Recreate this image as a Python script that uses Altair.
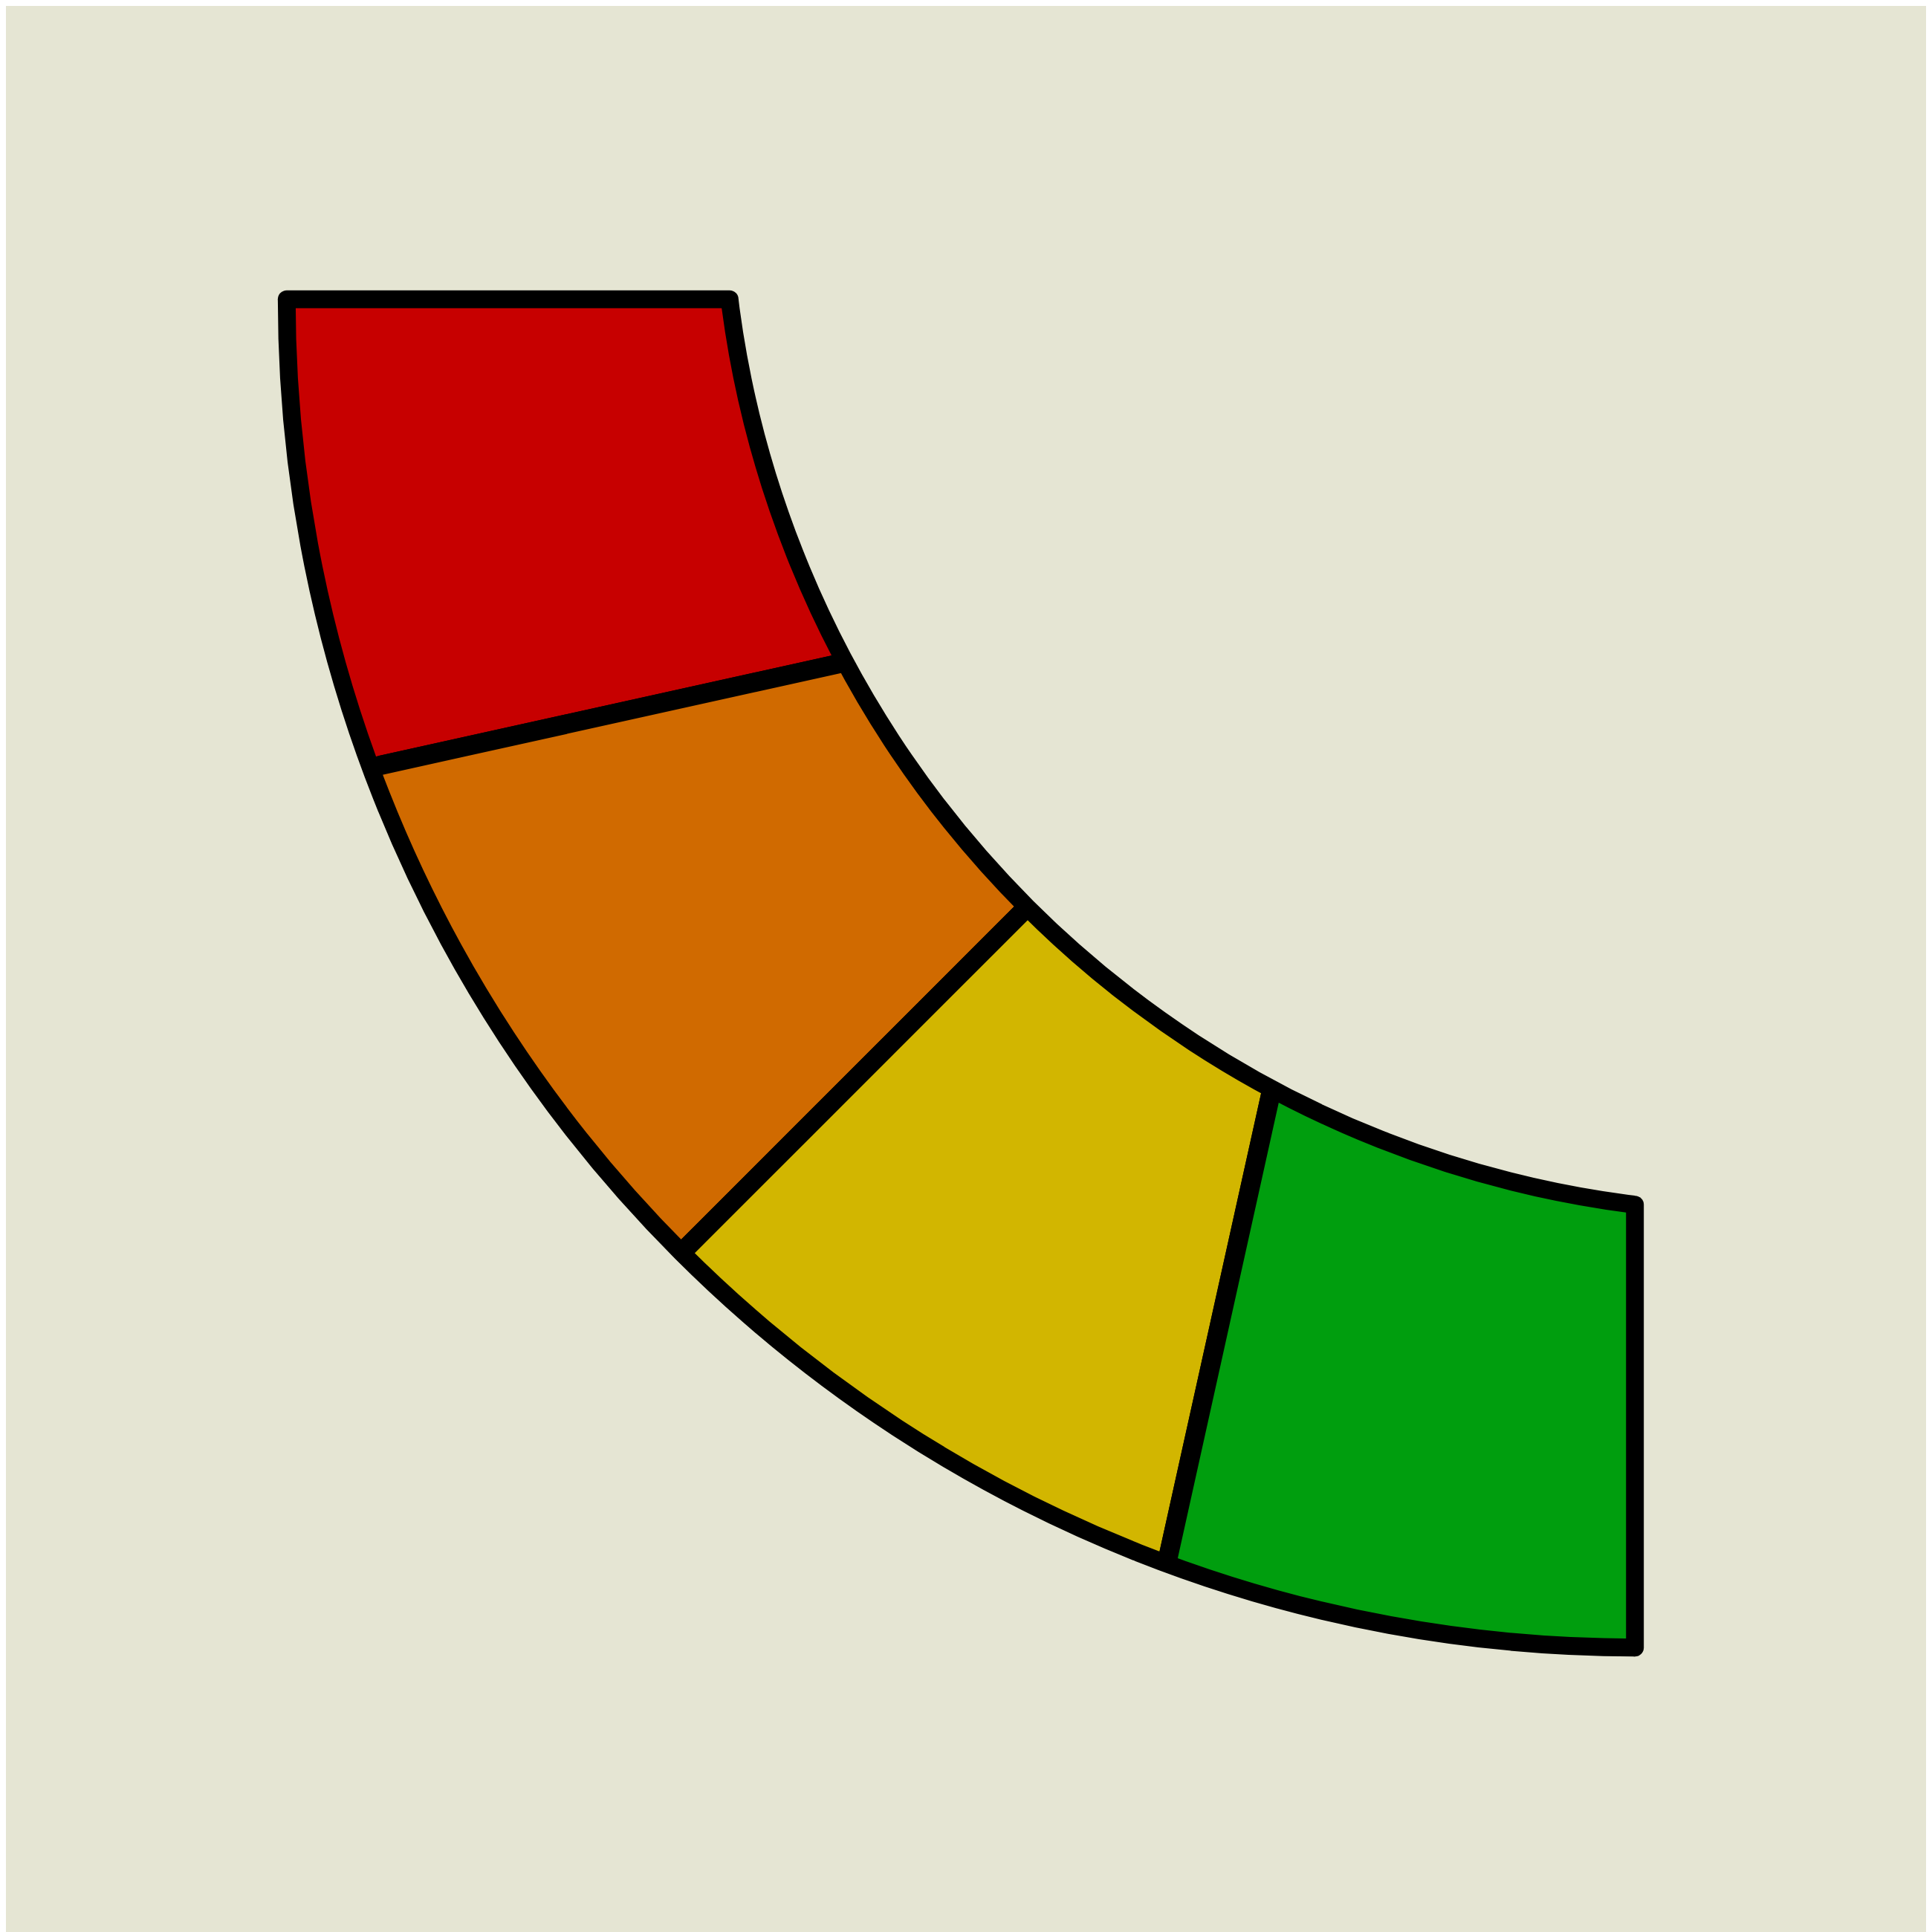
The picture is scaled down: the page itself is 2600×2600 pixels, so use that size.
import math
import altair as alt
import pandas as pd

# ---- data -------------------------------------------------------------
segments = ["Red", "Orange", "Yellow", "Green"]
shares = [25, 25, 25, 25]
colors = ["#C70000", "#D06A00", "#D2B600", "#009E0E"]

BG = "#E5E5D3"
W = H = 2592
EDGE = 24        # outline width
DIV = 26         # divider width

# ---- geometry (pixel space of the plot area) --------------------------
cox, coy, r_out = 2199, 392, 1820     # centre / radius of the outer rim
cix, ciy, r_in = 2374, 217, 1408      # centre / radius of the inner rim
px, py = 1873, 718                    # point the dividers converge to
theta_range = [math.radians(160), math.radians(290)]

top_x_left = cox - r_out
top_x_right = cix - math.sqrt(r_in ** 2 - (coy - ciy) ** 2)
right_y_top = ciy + math.sqrt(r_in ** 2 - (cox - cix) ** 2)
right_y_bottom = coy + r_out

df = pd.DataFrame({"segment": segments, "share": shares, "idx": list(range(len(segments)))})
one = pd.DataFrame({"k": [0]})

backdrop = alt.Chart(one).mark_rect(fill=BG, strokeWidth=0).encode(
    x=alt.value(-20), x2=alt.value(W + 20), y=alt.value(-20), y2=alt.value(H + 20))

wedges = alt.Chart(df).mark_arc(
    stroke="black", strokeWidth=DIV, strokeJoin="round"
).encode(
    theta=alt.Theta("share:Q", stack=True,
                    scale=alt.Scale(domain=[0, sum(shares)], range=theta_range)),
    order=alt.Order("idx:Q", sort="descending"),
    color=alt.Color("segment:N", scale=alt.Scale(domain=segments, range=colors), legend=None),
    x=alt.value(px), y=alt.value(py), radius=alt.value(2000),
)

outer_mask = alt.Chart(one).mark_arc(
    theta=0, theta2=2 * math.pi, radius=4000, radius2=r_out,
    fill=BG, stroke="black", strokeWidth=EDGE,
).encode(x=alt.value(cox), y=alt.value(coy))

inner_mask = alt.Chart(one).mark_arc(
    theta=0, theta2=2 * math.pi, radius=r_in,
    fill=BG, stroke="black", strokeWidth=EDGE,
).encode(x=alt.value(cix), y=alt.value(ciy))

top_mask = alt.Chart(one).mark_rect(fill=BG, strokeWidth=0).encode(
    x=alt.value(-20), x2=alt.value(W + 20), y=alt.value(-40), y2=alt.value(coy))
right_mask = alt.Chart(one).mark_rect(fill=BG, strokeWidth=0).encode(
    x=alt.value(cox), x2=alt.value(W + 40), y=alt.value(-40), y2=alt.value(H + 40))

top_edge = alt.Chart(one).mark_rule(
    color="black", strokeWidth=EDGE, strokeCap="round"
).encode(x=alt.value(top_x_left), x2=alt.value(top_x_right), y=alt.value(coy))

right_edge = alt.Chart(one).mark_rule(
    color="black", strokeWidth=EDGE, strokeCap="round"
).encode(x=alt.value(cox), y=alt.value(right_y_top), y2=alt.value(right_y_bottom))

chart = alt.layer(
    backdrop, wedges, outer_mask, inner_mask, top_mask, right_mask, top_edge, right_edge
).properties(
    width=W, height=H, padding=0, background=BG,
    autosize=alt.AutoSizeParams(type="none"),
).configure_view(strokeWidth=0)

chart.save("out.html", embed_options={"renderer": "svg", "actions": False})
